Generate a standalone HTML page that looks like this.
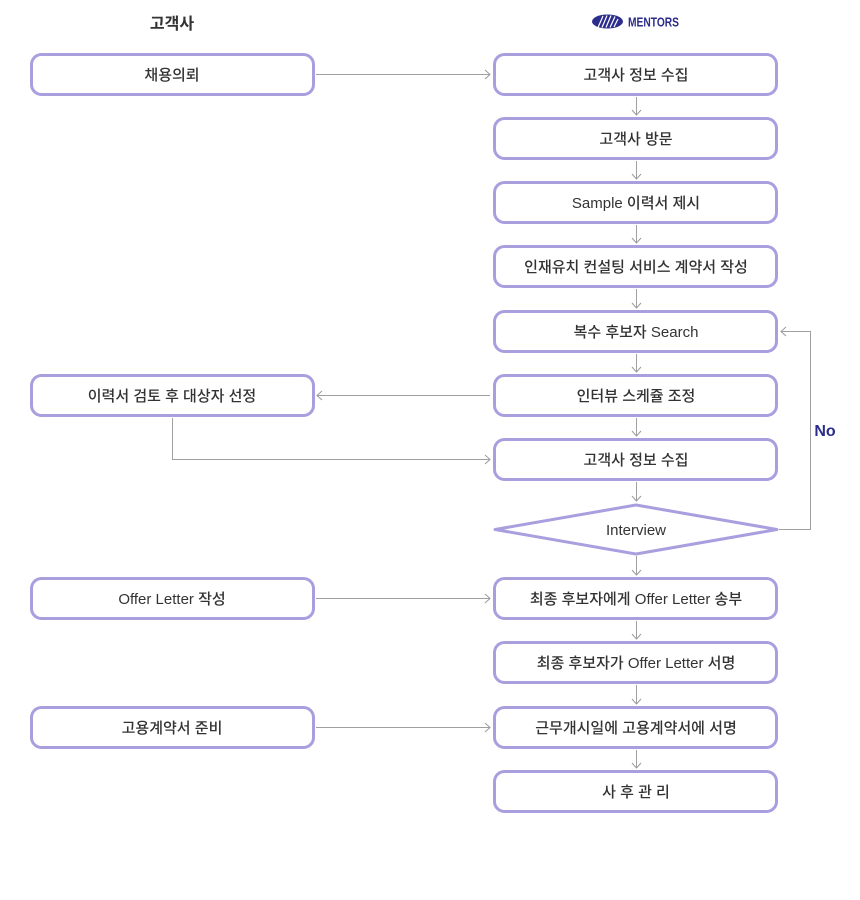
<!DOCTYPE html>
<html>
<head>
<meta charset="utf-8">
<style>
  html, body { margin:0; padding:0; background:#fff; }
  svg { display:block; }
  text { font-family: "Liberation Sans", "Noto Sans CJK KR", sans-serif; }
</style>
</head>
<body>
<svg width="860" height="900" viewBox="0 0 860 900" xmlns="http://www.w3.org/2000/svg">
  <defs>
    <marker id="ah" markerWidth="10" markerHeight="10" refX="8" refY="5" orient="auto" markerUnits="userSpaceOnUse">
      <path d="M3,0.5 L8,5 L3,9.5" fill="none" stroke="#9a9a9a" stroke-width="1"/>
    </marker>
  </defs>

  <!-- Headers -->
  <text x="172" y="29" text-anchor="middle" font-size="16" font-weight="bold" fill="#333">고객사</text>
  <g>
    <ellipse cx="607.5" cy="21.5" rx="15.5" ry="7" fill="#2c2c8c"/>
    <path d="M598,27.5 L603,16 M602,27.5 L607,15.5 M606,27.5 L611,15.5 M610,27.5 L615,16.5 M614,27 L618,19" stroke="#fff" stroke-width="1.2"/>
    <text x="628" y="26.5" font-size="13" font-weight="bold" fill="#2c2c8c" textLength="51" lengthAdjust="spacingAndGlyphs">MENTORS</text>
  </g>

  <g fill="#fff" stroke="#a99fdf" stroke-width="3">
    <!-- right column boxes -->
    <rect x="494.5" y="54.5" width="282" height="40" rx="10"/>
    <rect x="494.5" y="118.5" width="282" height="40" rx="10"/>
    <rect x="494.5" y="182.5" width="282" height="40" rx="10"/>
    <rect x="494.5" y="246.5" width="282" height="40" rx="10"/>
    <rect x="494.5" y="311.5" width="282" height="40" rx="10"/>
    <rect x="494.5" y="375.5" width="282" height="40" rx="10"/>
    <rect x="494.5" y="439.5" width="282" height="40" rx="10"/>
    <polygon points="495,529.5 636,505 777,529.5 636,554" stroke-linejoin="round"/>
    <rect x="494.5" y="578.5" width="282" height="40" rx="10"/>
    <rect x="494.5" y="642.5" width="282" height="40" rx="10"/>
    <rect x="494.5" y="707.5" width="282" height="40" rx="10"/>
    <rect x="494.5" y="771.5" width="282" height="40" rx="10"/>
    <!-- left column boxes -->
    <rect x="31.5" y="54.5" width="282" height="40" rx="10"/>
    <rect x="31.5" y="375.5" width="282" height="40" rx="10"/>
    <rect x="31.5" y="578.5" width="282" height="40" rx="10"/>
    <rect x="31.5" y="707.5" width="282" height="40" rx="10"/>
  </g>

  <!-- connectors -->
  <g fill="none" stroke="#a0a0a0" stroke-width="1">
    <line x1="316" y1="74.5" x2="490" y2="74.5" marker-end="url(#ah)"/>
    <line x1="490" y1="395.5" x2="317" y2="395.5" marker-end="url(#ah)"/>
    <polyline points="172.5,418 172.5,459.5 490,459.5" marker-end="url(#ah)"/>
    <line x1="316" y1="598.5" x2="490" y2="598.5" marker-end="url(#ah)"/>
    <line x1="316" y1="727.5" x2="490" y2="727.5" marker-end="url(#ah)"/>
    <polyline points="779,529.5 810.5,529.5 810.5,331.5 781,331.5" marker-end="url(#ah)"/>

    <line x1="636.5" y1="97" x2="636.5" y2="115" marker-end="url(#ah)"/>
    <line x1="636.5" y1="161" x2="636.5" y2="179" marker-end="url(#ah)"/>
    <line x1="636.5" y1="225" x2="636.5" y2="243" marker-end="url(#ah)"/>
    <line x1="636.5" y1="289" x2="636.5" y2="308" marker-end="url(#ah)"/>
    <line x1="636.5" y1="354" x2="636.5" y2="372" marker-end="url(#ah)"/>
    <line x1="636.5" y1="418" x2="636.5" y2="436" marker-end="url(#ah)"/>
    <line x1="636.5" y1="482" x2="636.5" y2="501" marker-end="url(#ah)"/>
    <line x1="636.5" y1="556" x2="636.5" y2="575" marker-end="url(#ah)"/>
    <line x1="636.5" y1="621" x2="636.5" y2="639" marker-end="url(#ah)"/>
    <line x1="636.5" y1="685" x2="636.5" y2="704" marker-end="url(#ah)"/>
    <line x1="636.5" y1="750" x2="636.5" y2="768" marker-end="url(#ah)"/>
  </g>

  <!-- labels -->
  <g font-size="15" font-weight="500" fill="#333" text-anchor="middle">
    <text x="636" y="80">고객사 정보 수집</text>
    <text x="636" y="144">고객사 방문</text>
    <text x="636" y="208">Sample 이력서 제시</text>
    <text x="636" y="272">인재유치 컨설팅 서비스 계약서 작성</text>
    <text x="636" y="337">복수 후보자 Search</text>
    <text x="636" y="401">인터뷰 스케쥴 조정</text>
    <text x="636" y="465">고객사 정보 수집</text>
    <text x="636" y="535">Interview</text>
    <text x="636" y="604">최종 후보자에게 Offer Letter 송부</text>
    <text x="636" y="668">최종 후보자가 Offer Letter 서명</text>
    <text x="636" y="733">근무개시일에 고용계약서에 서명</text>
    <text x="636" y="797">사 후 관 리</text>

    <text x="172" y="80">채용의뢰</text>
    <text x="172" y="401">이력서 검토 후 대상자 선정</text>
    <text x="172" y="604">Offer Letter 작성</text>
    <text x="172" y="733">고용계약서 준비</text>
  </g>

  <text x="825" y="436" text-anchor="middle" font-size="16" font-weight="bold" fill="#2c2c8c">No</text>
</svg>
</body>
</html>
